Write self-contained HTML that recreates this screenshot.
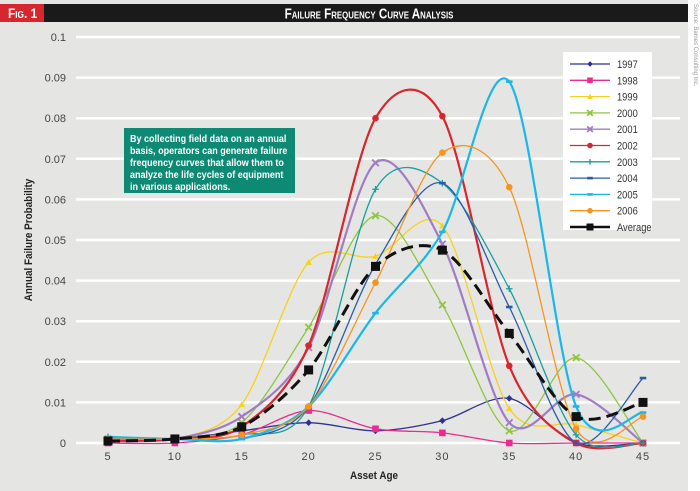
<!DOCTYPE html>
<html><head><meta charset="utf-8"><style>
body{margin:0;width:700px;height:491px;overflow:hidden;background:#fff;font-family:"Liberation Sans",sans-serif}
</style></head><body>
<svg id="chart" width="700" height="491" xmlns="http://www.w3.org/2000/svg" style="display:block">
<rect x="0" y="0" width="688" height="491" fill="#e5e5e3"/>
<rect x="688" y="0" width="12" height="491" fill="#fff"/>
<text transform="translate(694,4) rotate(90)" font-size="6" fill="#999">Source: Bames Consulting Inc.</text>
<rect x="0" y="4" width="688" height="18" fill="#1a1a1a"/>
<rect x="0" y="4" width="44" height="18" fill="#d7262e"/>
<text x="8" y="18" font-size="14" font-weight="bold" fill="#fff" style="font-variant:small-caps" transform="translate(8,0) scale(0.85,1) translate(-8,0)">Fig. 1</text>
<text x="369" y="18.5" text-anchor="middle" font-size="15" font-weight="bold" fill="#fff" style="font-variant:small-caps" transform="translate(369,0) scale(0.78,1) translate(-369,0)">Failure Frequency Curve Analysis</text>
<g id="grid"></g>
<g id="yticks"></g>
<g id="xticks"></g>
<text transform="translate(32,240) rotate(-90) scale(0.9,1)" text-anchor="middle" font-size="11" font-weight="bold" fill="#222">Annual Failure Probability</text>
<text x="374" y="479" text-anchor="middle" font-size="11" font-weight="bold" fill="#222" transform="translate(374,0) scale(0.9,1) translate(-374,0)">Asset Age</text>
<g id="series"></g>
<rect x="124" y="128" width="171" height="65" fill="#0e8a74"/>
<text font-size="10.5" font-weight="bold" fill="#fff" transform="translate(130,0) scale(0.86,1) translate(-130,0)">
<tspan x="130" y="142">By collecting field data on an annual</tspan>
<tspan x="130" y="154">basis, operators can generate failure</tspan>
<tspan x="130" y="166">frequency curves that allow them to</tspan>
<tspan x="130" y="178">analyze the life cycles of equipment</tspan>
<tspan x="130" y="190">in various applications.</tspan>
</text>
<rect x="563" y="52" width="89" height="178" fill="#fff"/>
<g id="legend"></g>
</svg>
<script>
const ages=[5,10,15,20,25,30,35,40,45];
const yTicks=[0,0.01,0.02,0.03,0.04,0.05,0.06,0.07,0.08,0.09,0.1];
const yTickLabels=["0","0.01","0.02","0.03","0.04","0.05","0.06","0.07","0.08","0.09","0.1"];
const seriesNames=["1997","1998","1999","2000","2001","2002","2003","2004","2005","2006","Average"];
const s1997=[0.001,0.001,0.003,0.005,0.003,0.0055,0.011,0.0,0.0];
const s1998=[0,0,0.002,0.008,0.0035,0.0025,0,0,0];
const s1999=[0.001,0.001,0.0095,0.0445,0.046,0.0535,0.0085,0.0045,0];
const s2000=[0.001,0.001,0.005,0.0285,0.056,0.034,0.003,0.021,0];
const s2001=[0.0005,0.001,0.0065,0.0235,0.069,0.049,0.005,0.012,0];
const s2002=[0.0005,0.001,0.004,0.024,0.080,0.0805,0.019,0,0];
const s2003=[0.0015,0.001,0.002,0.009,0.0625,0.064,0.038,0.002,0];
const s2004=[0.001,0.001,0.001,0.009,0.044,0.064,0.0335,0,0.016];
const s2005=[0.0015,0.001,0.001,0.009,0.032,0.052,0.089,0.009,0.0075];
const s2006=[0.001,0.001,0.002,0.009,0.0395,0.0715,0.063,0.0035,0.0065];
const sAvg=[0.0005,0.001,0.004,0.018,0.0435,0.0475,0.027,0.0065,0.010];
const allSeries=[s1997,s1998,s1999,s2000,s2001,s2002,s2003,s2004,s2005,s2006,sAvg];
const colors=["#2e3192","#ec2a90","#f5d21e","#8dc63f","#a07cc5","#d7262e","#16a0a0","#2a5caa","#1ab7ea","#f7941d","#111"];
const markers=["diamond","square","triangle","x","x","circle","plus","dash","dash","circle","square"];
const X=a=>108+(a-5)*13.375;
const Y=v=>443-v*4060;
const NS="http://www.w3.org/2000/svg";
function mk(t,attrs,parent){const e=document.createElementNS(NS,t);for(const k in attrs)e.setAttribute(k,attrs[k]);parent.appendChild(e);return e;}
const grid=document.getElementById('grid'),yt=document.getElementById('yticks'),xt=document.getElementById('xticks');
yTicks.forEach((v,i)=>{
 const l=mk('line',{x1:76,x2:680,y1:Y(v),y2:Y(v),stroke:'#fff','stroke-width':2.5},grid);
 
 
 const t=mk('text',{x:66,y:Y(v)+4,'text-anchor':'end','font-size':11,fill:'#444'},yt);
 t.textContent=yTickLabels[i];
 
 
});
ages.forEach(a=>{
 const t=mk('text',{x:X(a),y:460,'text-anchor':'middle','font-size':11,fill:'#444','letter-spacing':'1'},xt);
 t.textContent=a;
 
 
});
function pathFor(vals){
 const p=vals.map((v,i)=>[X(ages[i]),Y(v)]);
 const k=1/6.5;
 let d=`M${p[0][0]},${p[0][1]}`;
 for(let i=0;i<p.length-1;i++){
  const p0=p[i-1]||p[i],p1=p[i],p2=p[i+1],p3=p[i+2]||p2;
  const c1=[p1[0]+(p2[0]-p0[0])*k,p1[1]+(p2[1]-p0[1])*k];
  const c2=[p2[0]-(p3[0]-p1[0])*k,p2[1]-(p3[1]-p1[1])*k];
  d+=` C${c1[0]},${c1[1]} ${c2[0]},${c2[1]} ${p2[0]},${p2[1]}`;
 }
 return d;
}
function marker(g,type,x,y,c,s){
 let e;
 if(type==='diamond')e=mk('polygon',{points:`${x},${y-s} ${x+s},${y} ${x},${y+s} ${x-s},${y}`,fill:c},g);
 else if(type==='square')e=mk('rect',{x:x-s,y:y-s,width:2*s,height:2*s,fill:c},g);
 else if(type==='triangle')e=mk('polygon',{points:`${x},${y-s} ${x+s},${y+s*0.8} ${x-s},${y+s*0.8}`,fill:c},g);
 else if(type==='circle')e=mk('circle',{cx:x,cy:y,r:s,fill:c},g);
 else if(type==='x')e=mk('path',{d:`M${x-s},${y-s}L${x+s},${y+s}M${x-s},${y+s}L${x+s},${y-s}`,stroke:c,'stroke-width':1.8},g);
 else if(type==='plus')e=mk('path',{d:`M${x-s},${y}L${x+s},${y}M${x},${y-s}L${x},${y+s}`,stroke:c,'stroke-width':1.3},g);
 else e=mk('rect',{x:x-s,y:y-1.3,width:2*s,height:2.6,fill:c},g);
 
 
}
const sg=document.getElementById('series'),lg=document.getElementById('legend');
allSeries.forEach((vals,i)=>{
 const g=mk('g',{},sg);
 
 
 const avg=i===10;
 const w=avg?3:(i===5||i===8||i===4?2.2:1.3);
 const p=mk('path',{d:pathFor(vals),fill:'none',stroke:colors[i],'stroke-width':w},g);
 if(avg)p.setAttribute('stroke-dasharray','12,6');
 
 
 vals.forEach((v,j)=>marker(g,markers[i],X(ages[j]),Y(v),colors[i],avg?4.5:3.3));
 const ly=64+i*16.3;
 const lgi=mk('g',{},lg);
 
 
 mk('line',{x1:570,x2:610,y1:ly,y2:ly,stroke:colors[i],'stroke-width':avg?2.5:1.3},lgi);
 marker(lgi,markers[i],590,ly,colors[i],avg?3.5:2.8);
 const t=mk('text',{x:617,y:ly+4,'font-size':11,fill:'#333',transform:'translate(617,0) scale(0.85,1) translate(-617,0)'},lgi);
 t.textContent=seriesNames[i];
});
</script>
</body></html>
